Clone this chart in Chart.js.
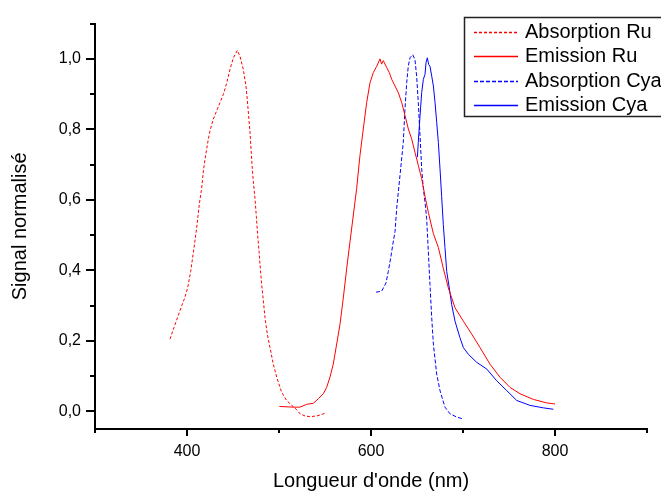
<!DOCTYPE html>
<html lang="fr">
<head>
<meta charset="UTF-8">
<title>Signal normalisé</title>
<script src="https://cdn.jsdelivr.net/npm/chart.js"></script>
<style>
  body { margin: 0; background: #fff; }
  #wrap { width: 661px; height: 491px; }
</style>
</head>
<body>
<div id="wrap"><canvas id="chart" width="661" height="491"></canvas></div>
<script>
// wavelengths (nm) and normalised signal
const absRuX = [381.5, 385.9, 390.2, 394.2, 397.5, 400.7, 404, 407.3, 410.5, 413.4, 415.9, 417.7, 419.6, 421.4, 423.2, 425, 428.6, 432.3, 435.9, 439.5, 443.2, 446.7, 450.4, 454.7, 457.6, 461.2, 464.1, 465.5, 467, 468.5, 469.6, 470.7, 472.1, 473.9, 475.4, 476.8, 478.3, 479.7, 481.2, 483, 484.8, 487.3, 490.2, 493.8, 497.5, 502.9, 508.3, 513.8, 519.2, 522.8, 528.3, 533.7, 541, 546.4, 551.1];
const absRuY = [0.205, 0.238, 0.270, 0.299, 0.322, 0.350, 0.397, 0.458, 0.520, 0.588, 0.632, 0.679, 0.716, 0.744, 0.773, 0.796, 0.829, 0.853, 0.876, 0.899, 0.932, 0.970, 1.003, 1.024, 1.007, 0.970, 0.923, 0.885, 0.838, 0.792, 0.744, 0.698, 0.651, 0.604, 0.552, 0.500, 0.454, 0.406, 0.359, 0.313, 0.266, 0.219, 0.181, 0.134, 0.097, 0.054, 0.031, 0.017, 0.005, -0.007, -0.013, -0.015, -0.013, -0.009, -0.004];

const emRuX = [500.4, 515.6, 522.8, 530.1, 537.3, 542.8, 548.2, 551.8, 555.4, 559, 562.7, 566.3, 569.9, 573.6, 577.2, 580.8, 584.4, 588, 591.6, 595.3, 598.9, 602.5, 606.2, 609.8, 611.5, 613.4, 617.1, 619.9, 622.5, 626.1, 629.7, 633.4, 637, 640.6, 644.2, 647.8, 651.4, 655.1, 658.7, 662.3, 667.7, 673.2, 678.6, 684.1, 691.3, 700.4, 709.5, 718.5, 729.3, 740.2, 751.1, 762, 776.4, 791, 800];
const emRuY = [0.014, 0.012, 0.012, 0.020, 0.023, 0.036, 0.050, 0.068, 0.097, 0.134, 0.191, 0.247, 0.322, 0.406, 0.482, 0.557, 0.632, 0.726, 0.801, 0.876, 0.932, 0.961, 0.979, 1.000, 0.985, 0.995, 0.975, 0.961, 0.942, 0.923, 0.904, 0.876, 0.839, 0.801, 0.773, 0.735, 0.698, 0.660, 0.610, 0.565, 0.505, 0.465, 0.406, 0.350, 0.294, 0.256, 0.219, 0.181, 0.134, 0.097, 0.068, 0.050, 0.034, 0.024, 0.021];

const absCyaX = [605.4, 611.6, 616.3, 618.8, 621.4, 623.6, 626.1, 627.9, 631.5, 635.1, 636.9, 638.8, 640.5, 642.4, 645.3, 647.8, 649.6, 651.4, 653.3, 655.1, 656.9, 658.7, 660.5, 662.3, 664.1, 666, 667.8, 671.4, 675, 680.4, 685.9, 693.1, 700.4];
const absCyaY = [0.338, 0.341, 0.364, 0.397, 0.435, 0.472, 0.510, 0.575, 0.669, 0.763, 0.857, 0.932, 0.979, 1.003, 1.012, 0.998, 0.951, 0.876, 0.782, 0.688, 0.632, 0.594, 0.547, 0.454, 0.360, 0.266, 0.191, 0.106, 0.059, 0.012, -0.007, -0.016, -0.022];

const emCyaX = [650.4, 651.4, 653.3, 655.1, 656.9, 658.7, 659.8, 661.2, 662.7, 664.1, 666, 667.8, 669.6, 671.4, 673.2, 675, 676.8, 678.6, 680.4, 682.3, 685.1, 687.7, 691.3, 696.7, 700.4, 705.8, 714.9, 725.8, 736.6, 747.5, 758.4, 772.8, 787.3, 798.2];
const emCyaY = [0.721, 0.763, 0.839, 0.904, 0.942, 0.956, 0.989, 1.003, 0.984, 0.979, 0.951, 0.923, 0.876, 0.820, 0.763, 0.688, 0.610, 0.530, 0.465, 0.397, 0.350, 0.303, 0.256, 0.209, 0.181, 0.162, 0.139, 0.120, 0.087, 0.059, 0.031, 0.017, 0.010, 0.006];

const seriesNames = ['Absorption Ru', 'Emission Ru', 'Absorption Cya', 'Emission Cya'];

// axis ticks
const xMajor = [400, 600, 800];
const xMinor = [300, 500, 700, 900];
const yMajor = [0, 0.2, 0.4, 0.6, 0.8, 1.0];
const yMinor = [0.1, 0.3, 0.5, 0.7, 0.9, 1.1];

const pts = (xs, ys) => xs.map((x, i) => ({ x: x, y: ys[i] }));

Chart.defaults.font.family = '"Liberation Sans", Arial, sans-serif';
Chart.defaults.color = '#000';

// tick marks: long for labelled values, short for the others
const axisTicks = {
    id: 'axisTicks',
    afterDraw(chart) {
        const { ctx, scales: { x, y } } = chart;
        ctx.save();
        ctx.strokeStyle = '#000';
        ctx.lineWidth = 2;
        ctx.beginPath();
        xMajor.forEach(v => { const p = Math.round(x.getPixelForValue(v)); ctx.moveTo(p, x.top); ctx.lineTo(p, x.top + 7); });
        xMinor.forEach(v => { const p = Math.round(x.getPixelForValue(v)); ctx.moveTo(p, x.top); ctx.lineTo(p, x.top + 4); });
        yMajor.forEach(v => { const p = Math.round(y.getPixelForValue(v)); ctx.moveTo(y.right, p); ctx.lineTo(y.right - 9, p); });
        yMinor.forEach(v => { const p = Math.round(y.getPixelForValue(v)); ctx.moveTo(y.right, p); ctx.lineTo(y.right - 5, p); });
        ctx.stroke();
        ctx.restore();
    }
};

// boxed legend in the upper right corner, cut by the canvas edge
const legendBox = {
    id: 'legendBox',
    afterDraw(chart) {
        const ctx = chart.ctx;
        ctx.save();
        ctx.fillStyle = '#fff';
        ctx.fillRect(464, 17, 240, 100);
        ctx.strokeStyle = '#222';
        ctx.lineWidth = 1.5;
        ctx.strokeRect(464.5, 17.5, 240, 99);
        ctx.font = '20px "Liberation Sans", Arial, sans-serif';
        ctx.textBaseline = 'middle';
        chart.data.datasets.forEach((ds, i) => {
            const cy = Math.round(32 + i * 24.4) + 0.5;
            ctx.strokeStyle = ds.borderColor;
            ctx.lineWidth = 1.5;
            ctx.setLineDash(ds.borderDash || []);
            ctx.beginPath();
            ctx.moveTo(474, cy);
            ctx.lineTo(518, cy);
            ctx.stroke();
            ctx.setLineDash([]);
            ctx.fillStyle = '#000';
            ctx.fillText(ds.label, 525, cy);
        });
        ctx.restore();
    }
};

new Chart(document.getElementById('chart'), {
    type: 'line',
    data: {
        datasets: [
            { label: seriesNames[0], data: pts(absRuX, absRuY), borderColor: '#ff0000', borderDash: [3, 2] },
            { label: seriesNames[1], data: pts(emRuX, emRuY), borderColor: '#ff0000' },
            { label: seriesNames[2], data: pts(absCyaX, absCyaY), borderColor: '#0000ff', borderDash: [4, 2] },
            { label: seriesNames[3], data: pts(emCyaX, emCyaY), borderColor: '#0000ff' }
        ]
    },
    options: {
        responsive: false,
        animation: false,
        layout: { padding: { top: 20, right: 14, left: 0, bottom: 0 } },
        elements: {
            point: { radius: 0 },
            line: { borderWidth: 1, tension: 0, fill: false }
        },
        plugins: {
            legend: { display: false },
            tooltip: { enabled: false }
        },
        scales: {
            x: {
                type: 'linear',
                min: 300,
                max: 900,
                afterFit: s => { s.height = 62; },
                afterBuildTicks: s => { s.ticks = xMajor.map(v => ({ value: v })); },
                grid: { drawOnChartArea: false, drawTicks: false },
                border: { display: true, color: '#000', width: 2 },
                ticks: {
                    autoSkip: false,
                    maxRotation: 0,
                    padding: 13,
                    font: { size: 16 },
                    callback: v => String(v)
                },
                title: {
                    display: true,
                    text: "Longueur d'onde (nm)",
                    font: { size: 20, lineHeight: 1 },
                    padding: { top: 0, bottom: 0 }
                }
            },
            y: {
                type: 'linear',
                min: -0.05,
                max: 1.1,
                afterFit: s => { s.width = 95; },
                afterBuildTicks: s => { s.ticks = yMajor.map(v => ({ value: v })); },
                grid: { drawOnChartArea: false, drawTicks: false },
                border: { display: true, color: '#000', width: 2 },
                ticks: {
                    autoSkip: false,
                    padding: 14,
                    font: { size: 16 },
                    callback: v => v.toFixed(1).replace('.', ',')
                },
                title: {
                    display: true,
                    text: 'Signal normalisé',
                    font: { size: 20, lineHeight: 1 },
                    padding: { top: 10, bottom: 0 }
                }
            }
        }
    },
    plugins: [axisTicks, legendBox]
});
</script>
</body>
</html>
